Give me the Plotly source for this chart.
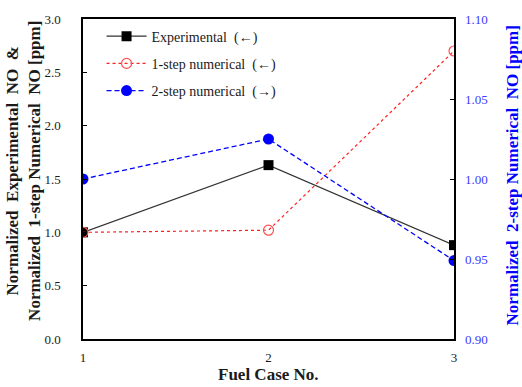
import plotly.graph_objects as go

cases = [1, 2, 3]
experimental = [1.00, 1.63, 0.88]
one_step = [1.00, 1.02, 2.70]
two_step = [1.000, 1.025, 0.949]

left_ticks = [0.0, 0.5, 1.0, 1.5, 2.0, 2.5, 3.0]
right_ticks = [0.90, 0.95, 1.00, 1.05, 1.10]

serif = "Liberation Serif"
blue = "#0000ff"
tick_blue = "#3b3bff"
ink = "#1a1a1a"
sp = "\u00a0"

fig = go.Figure()
fig.add_trace(go.Scatter(
    x=cases, y=experimental, name=f"Experimental{sp}{sp}(\u2190)",
    mode="lines+markers", legendgroup="a",
    line=dict(color="#333333", width=1.3),
    marker=dict(symbol="square", size=10, color="black"),
))
fig.add_trace(go.Scatter(
    x=cases, y=one_step, name=f"1-step numerical{sp}{sp}(\u2190)",
    mode="lines+markers", legendgroup="b",
    line=dict(color="#ff2020", width=1.2, dash="dot"),
    marker=dict(symbol="circle-open", size=10, color="#ff5050", line=dict(width=1.2)),
))
fig.add_trace(go.Scatter(
    x=cases, y=two_step, name=f"2-step numerical{sp}{sp}(\u2192)",
    mode="lines+markers", yaxis="y2", legendgroup="c",
    line=dict(color=blue, width=1.3, dash="5px,3px"),
    marker=dict(symbol="circle", size=11, color=blue),
))

title_font = dict(family=serif, size=17, color=ink)
left_title = (f"<b>Normalized{sp}{sp}Experimental{sp}{sp}NO{sp}{sp}&amp;<br>"
              f"Normalized{sp}{sp}1-step{sp}Numerical{sp}{sp}NO{sp}[ppm]</b>")
right_title = f"<b>Normalized{sp}{sp}2-step{sp}Numerical{sp}{sp}NO{sp}[ppm]</b>"

fig.update_layout(
    width=522, height=387,
    margin=dict(l=83, r=68, t=19, b=48),
    paper_bgcolor="white", plot_bgcolor="white",
    font=dict(family=serif, size=12, color=ink),
    showlegend=True,
    legend=dict(x=0.05, y=0.995, xanchor="left", yanchor="top",
                bgcolor="rgba(0,0,0,0)", font=dict(family=serif, size=14, color=ink),
                tracegroupgap=6, itemwidth=40),
    xaxis=dict(
        range=[1, 3], tickvals=cases, ticktext=[str(c) for c in cases],
        showgrid=False, zeroline=False,
        showline=True, linecolor="black", linewidth=1.5, mirror=True,
        ticks="", ticklabelstandoff=6,
        tickfont=dict(family=serif, size=13, color=ink),
    ),
    yaxis=dict(
        range=[0, 3], tickvals=left_ticks, ticktext=[f"{v:.1f}" for v in left_ticks],
        showgrid=False, zeroline=False,
        showline=True, linecolor="black", linewidth=1.5, mirror=True,
        ticks="inside", ticklen=4, tickcolor="black", ticklabelstandoff=18,
        tickfont=dict(family=serif, size=13, color=ink),
    ),
    yaxis2=dict(
        range=[0.90, 1.10], tickvals=right_ticks, ticktext=[f"{v:.2f}" for v in right_ticks],
        overlaying="y", side="right",
        showgrid=False, zeroline=False, showline=False,
        ticks="inside", ticklen=4, tickcolor="black", ticklabelstandoff=10,
        tickfont=dict(family=serif, size=13, color=tick_blue),
    ),
    annotations=[
        dict(text="<b>Fuel Case No.</b>", xref="paper", yref="paper",
             x=0.5, y=-0.148, xanchor="center", yanchor="bottom",
             showarrow=False, font=dict(family=serif, size=17, color=ink)),
        dict(text=left_title, xref="paper", yref="paper",
             x=-0.162, y=0.525, xanchor="center", yanchor="middle", textangle=-90,
             showarrow=False, font=title_font),
        dict(text=right_title, xref="paper", yref="paper",
             x=1.158, y=0.51, xanchor="center", yanchor="middle", textangle=-90,
             showarrow=False, font=dict(family=serif, size=17, color=blue)),
    ],
)

fig.write_html("out.html")
